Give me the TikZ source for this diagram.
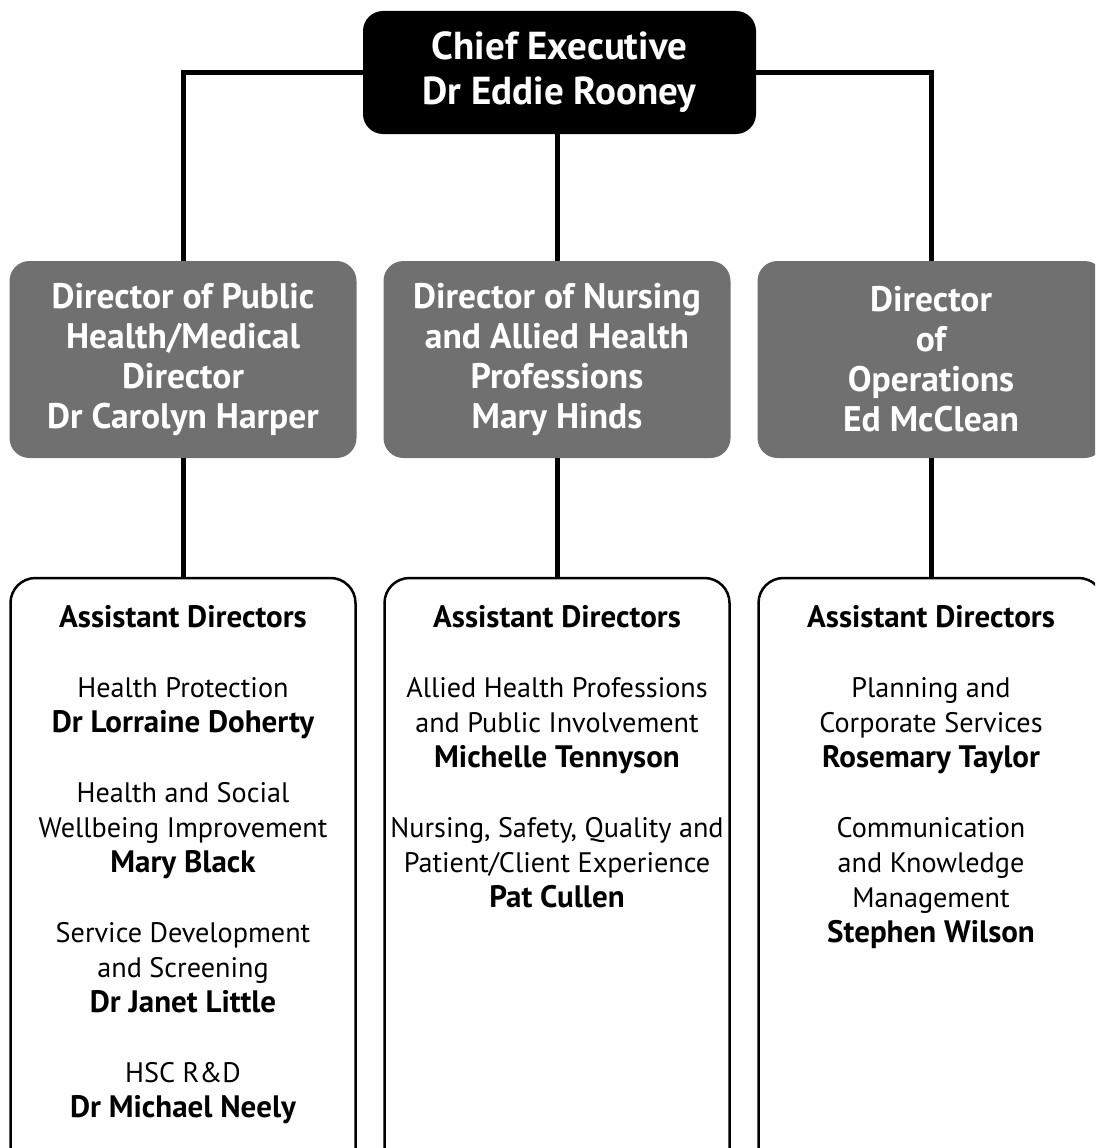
\documentclass[tikz,border=0pt]{standalone}
\usepackage{fontspec}
\setmainfont{PT Sans}
\usepackage{tikz}
\usetikzlibrary{positioning}
\definecolor{dirgrey}{RGB}{112,112,112}
\newcommand{\adname}[1]{{\fontsize{31}{35}\selectfont\bfseries #1}}
\tikzstyle{chief} = [rectangle, rounded corners=20pt, minimum width=393pt, minimum height=123pt, text centered, align=center, fill=black, text=white, font=\fontsize{39}{45}\selectfont\bfseries]
\tikzstyle{director} = [rectangle, rounded corners=20pt, minimum width=347pt, minimum height=197pt, text centered, align=center, fill=dirgrey, text=white, font=\fontsize{35.5}{40}\selectfont\bfseries]
\tikzstyle{assistant} = [rectangle, rounded corners=25pt, minimum width=345pt, minimum height=600pt, draw=black, line width=2.5pt, fill=white]
\tikzstyle{adlist} = [align=center, inner sep=0pt, anchor=north, font=\fontsize{28.2}{35}\selectfont]
\tikzstyle{link} = [line width=5pt, black]

\begin{document}
\begin{tikzpicture}[x=1pt, y=-1pt, node distance=374pt]
    \useasboundingbox (0,0) rectangle (1095,1148);
    \clip (0,0) rectangle (1095,1148);

    \node [chief] at (559.5,72.5)									(chief)			{Chief Executive\\Dr Eddie Rooney};
    \node [director, below of=chief, yshift=87pt, xshift=-2.5pt]	(nursing)		{Director of Nursing\\and Allied Health\\Professions\\Mary Hinds};
    \node [director, left of=nursing]								(health)		{Director of Public\\Health/Medical\\Director\\Dr Carolyn Harper};
    \node [director, right of=nursing]								(operations)	{Director\\of\\Operations\\Ed McClean};
    \node [assistant, below of=health, yshift=-144.5pt]				(healthad)		{};
    \node [assistant, below of=nursing, yshift=-144.5pt]			(nursingad)		{};
    \node [assistant, below of=operations, yshift=-144.5pt]			(operationsad)	{};

    \node [adlist, below=28pt of healthad.north]					(healthlist)	{\adname{Assistant Directors}\\[35pt]
        Health Protection\\\adname{Dr Lorraine Doherty}\\[35pt]
        Health and Social\\Wellbeing Improvement\\\adname{Mary Black}\\[35pt]
        Service Development\\and Screening\\\adname{Dr Janet Little}\\[35pt]
        HSC R\&D\\\adname{Dr Michael Neely}};
    \node [adlist, below=28pt of nursingad.north]					(nursinglist)	{\adname{Assistant Directors}\\[35pt]
        Allied Health Professions\\and Public Involvement\\\adname{Michelle Tennyson}\\[35pt]
        Nursing, Safety, Quality and\\Patient/Client Experience\\\adname{Pat Cullen}};
    \node [adlist, below=28pt of operationsad.north]				(operationslist){\adname{Assistant Directors}\\[35pt]
        Planning and\\Corporate Services\\\adname{Rosemary Taylor}\\[35pt]
        Communication\\and Knowledge\\Management\\\adname{Stephen Wilson}};

    \draw [link] (chief.west) -| (health.north);
    \draw [link] (chief.east) -| (operations.north);
    \draw [link] (chief.south -| nursing.north) -- (nursing.north);
    \draw [link] (health) -- (healthad);
    \draw [link] (nursing) -- (nursingad);
    \draw [link] (operations) -- (operationsad);
\end{tikzpicture}
\end{document}
